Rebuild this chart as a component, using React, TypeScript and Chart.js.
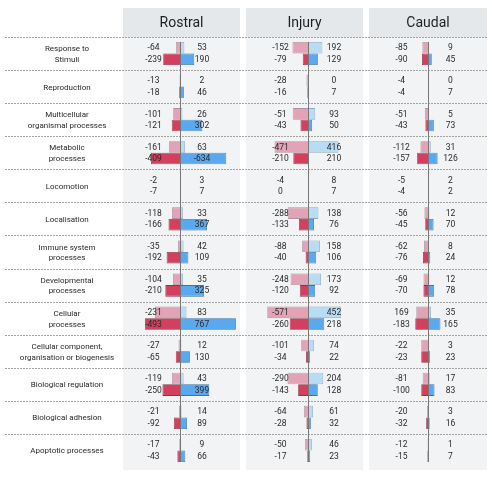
import React, { useEffect, useRef } from "react";
import { Chart, registerables } from "chart.js";

Chart.register(...registerables);

// ---------- DATA ----------
const categories: string[][] = [
  ["Response to", "Stimuli"],
  ["Reproduction"],
  ["Multicellular", "organismal processes"],
  ["Metabolic", "processes"],
  ["Locomotion"],
  ["Localisation"],
  ["Immune system", "processes"],
  ["Developmental", "processes"],
  ["Cellular", "processes"],
  ["Cellular component,", "organisation or biogenesis"],
  ["Biological regulation"],
  ["Biological adhesion"],
  ["Apoptotic processes"],
];

const panelTitles = ["Rostral", "Injury", "Caudal"];

// bar lengths as drawn (light = upper bar, dark = lower bar)
const rostralLightNeg = [-64, -13, -101, -161, -2, -118, -35, -104, -355, -27, -119, -21, -17];
const rostralLightPos = [53, 2, 26, 63, 3, 33, 42, 35, 83, 12, 43, 14, 9];
const rostralDarkNeg = [-239, -18, -121, -409, -7, -166, -192, -210, -493, -65, -250, -92, -43];
const rostralDarkPos = [190, 46, 302, 634, 7, 367, 109, 325, 767, 130, 399, 89, 66];

const injuryLightNeg = [-222, -28, -218, -471, -4, -288, -88, -248, -571, -101, -290, -64, -50];
const injuryLightPos = [192, 0, 93, 416, 8, 138, 158, 173, 452, 74, 204, 61, 46];
const injuryDarkNeg = [-79, -16, -111, -210, 0, -133, -40, -120, -260, -34, -143, -28, -17];
const injuryDarkPos = [129, 7, 50, 0, 7, 76, 106, 92, 218, 22, 128, 32, 23];

const caudalLightNeg = [-85, -4, -51, -112, -5, -56, -62, -69, -169, -100, -81, -20, -12];
const caudalLightPos = [9, 0, 5, 31, 2, 12, 8, 12, 35, 3, 17, 3, 1];
const caudalDarkNeg = [-90, -4, -43, -157, -4, -45, -76, -70, -183, -100, -100, -32, -15];
const caudalDarkPos = [45, 7, 73, 126, 2, 70, 24, 78, 165, 23, 83, 16, 7];

// printed value labels (as shown in the figure)
const rostralLightNegText = ["-64", "-13", "-101", "-161", "-2", "-118", "-35", "-104", "-231", "-27", "-119", "-21", "-17"];
const rostralLightPosText = ["53", "2", "26", "63", "3", "33", "42", "35", "83", "12", "43", "14", "9"];
const rostralDarkNegText = ["-239", "-18", "-121", "-409", "-7", "-166", "-192", "-210", "-493", "-65", "-250", "-92", "-43"];
const rostralDarkPosText = ["190", "46", "302", "-634", "7", "367", "109", "325", "767", "130", "399", "89", "66"];

const injuryLightNegText = ["-152", "-28", "-51", "-471", "-4", "-288", "-88", "-248", "-571", "-101", "-290", "-64", "-50"];
const injuryLightPosText = ["192", "0", "93", "416", "8", "138", "158", "173", "452", "74", "204", "61", "46"];
const injuryDarkNegText = ["-79", "-16", "-43", "-210", "0", "-133", "-40", "-120", "-260", "-34", "-143", "-28", "-17"];
const injuryDarkPosText = ["129", "7", "50", "210", "7", "76", "106", "92", "218", "22", "128", "32", "23"];

const caudalLightNegText = ["-85", "-4", "-51", "-112", "-5", "-56", "-62", "-69", "169", "-22", "-81", "-20", "-12"];
const caudalLightPosText = ["9", "0", "5", "31", "2", "12", "8", "12", "35", "3", "17", "3", "1"];
const caudalDarkNegText = ["-90", "-4", "-43", "-157", "-4", "-45", "-76", "-70", "-183", "-23", "-100", "-32", "-15"];
const caudalDarkPosText = ["45", "7", "73", "126", "2", "70", "24", "78", "165", "23", "83", "16", "7"];

// ---------- LAYOUT / STYLE ----------
const W = 492;
const H = 480;
const AREA_L = 5;
const AREA_R = 487;
const AREA_T = 37;
const AREA_B = 467;
const PX_PER_UNIT = 0.0722;
const ZERO_PX = [180.5, 308.5, 428.5];
const PANEL_X: [number, number][] = [
  [123, 240],
  [246, 363],
  [369, 487],
];
const HEADER_TOP = 8;
const PANEL_BOTTOM = 470;
const LEFT_LABEL_OFF = [-27, -28, -27];
const RIGHT_LABEL_OFF = [21.5, 25.5, 22];
const CAT_PCT = 0.7;
const FONT = "Roboto, 'Noto Sans', sans-serif";

const STYLE = {
  lightNeg: { bg: "#e3a3b7", border: "#b0909c" },
  lightPos: { bg: "#b8dcf3", border: "#8faabf" },
  darkNeg: { bg: "#d3405f", border: "#8e3348" },
  darkPos: { bg: "#5aa9ee", border: "#3a72ad" },
};

type Series = {
  panel: number;
  level: "light" | "dark";
  kind: keyof typeof STYLE;
  values: number[];
  text: string[];
  side: "neg" | "pos";
};

const series: Series[] = [
  { panel: 0, level: "light", kind: "lightNeg", side: "neg", values: rostralLightNeg, text: rostralLightNegText },
  { panel: 0, level: "light", kind: "lightPos", side: "pos", values: rostralLightPos, text: rostralLightPosText },
  { panel: 0, level: "dark", kind: "darkNeg", side: "neg", values: rostralDarkNeg, text: rostralDarkNegText },
  { panel: 0, level: "dark", kind: "darkPos", side: "pos", values: rostralDarkPos, text: rostralDarkPosText },
  { panel: 1, level: "light", kind: "lightNeg", side: "neg", values: injuryLightNeg, text: injuryLightNegText },
  { panel: 1, level: "light", kind: "lightPos", side: "pos", values: injuryLightPos, text: injuryLightPosText },
  { panel: 1, level: "dark", kind: "darkNeg", side: "neg", values: injuryDarkNeg, text: injuryDarkNegText },
  { panel: 1, level: "dark", kind: "darkPos", side: "pos", values: injuryDarkPos, text: injuryDarkPosText },
  { panel: 2, level: "light", kind: "lightNeg", side: "neg", values: caudalLightNeg, text: caudalLightNegText },
  { panel: 2, level: "light", kind: "lightPos", side: "pos", values: caudalLightPos, text: caudalLightPosText },
  { panel: 2, level: "dark", kind: "darkNeg", side: "neg", values: caudalDarkNeg, text: caudalDarkNegText },
  { panel: 2, level: "dark", kind: "darkPos", side: "pos", values: caudalDarkPos, text: caudalDarkPosText },
];

const decorPlugin = {
  id: "decor",
  beforeDraw(chart: any) {
    const ctx = chart.ctx;
    const y = chart.scales.y;
    const band = (y.bottom - y.top) / categories.length;
    ctx.save();
    // panel backgrounds + headers
    PANEL_X.forEach(([l, r], i) => {
      ctx.fillStyle = "#f1f3f4";
      ctx.fillRect(l, HEADER_TOP, r - l, PANEL_BOTTOM - HEADER_TOP);
      ctx.fillStyle = "#e5e8ea";
      ctx.fillRect(l, HEADER_TOP, r - l, y.top - HEADER_TOP);
      ctx.fillStyle = "#1e1e1e";
      ctx.font = `14px ${FONT}`;
      ctx.textAlign = "center";
      ctx.textBaseline = "middle";
      ctx.fillText(panelTitles[i], (l + r) / 2, (HEADER_TOP + y.top) / 2 + 1);
    });
    // dotted row separators
    ctx.strokeStyle = "#a3a3a3";
    ctx.lineWidth = 1;
    ctx.setLineDash([2, 1]);
    categories.forEach((_, i) => {
      const yy = Math.round(y.getPixelForValue(i) - band / 2) + 0.5;
      ctx.beginPath();
      ctx.moveTo(AREA_L, yy);
      ctx.lineTo(AREA_R, yy);
      ctx.stroke();
    });
    ctx.setLineDash([]);
    // row labels
    ctx.fillStyle = "#2a2a2a";
    ctx.font = `8px ${FONT}`;
    ctx.textAlign = "center";
    ctx.textBaseline = "middle";
    categories.forEach((lines, i) => {
      const cy = y.getPixelForValue(i) + 1;
      const lh = 10.7;
      lines.forEach((t, k) => {
        ctx.fillText(t, 67, cy + (k - (lines.length - 1) / 2) * lh);
      });
    });
    ctx.restore();
  },
  afterDatasetsDraw(chart: any) {
    const ctx = chart.ctx;
    const y = chart.scales.y;
    const band = (y.bottom - y.top) / categories.length;
    ctx.save();
    // zero lines
    ctx.strokeStyle = "#777777";
    ctx.lineWidth = 1;
    [0, 1, 2].forEach((p) => {
      const x = chart.scales["x" + p].getPixelForValue(0);
      const top = y.getPixelForValue(0) - (band * CAT_PCT) / 2;
      const bot = y.getPixelForValue(categories.length - 1) + (band * CAT_PCT) / 2;
      ctx.beginPath();
      ctx.moveTo(x, top);
      ctx.lineTo(x, bot);
      ctx.stroke();
    });
    // value labels
    ctx.fillStyle = "#2a2a2a";
    ctx.font = `8.5px ${FONT}`;
    ctx.textAlign = "center";
    ctx.textBaseline = "middle";
    series.forEach((s, di) => {
      const meta = chart.getDatasetMeta(di);
      const zero = chart.scales["x" + s.panel].getPixelForValue(0);
      const off = s.side === "neg" ? LEFT_LABEL_OFF[s.panel] : RIGHT_LABEL_OFF[s.panel];
      meta.data.forEach((el: any, j: number) => {
        ctx.fillText(s.text[j], zero + off, el.y + 0.5);
      });
    });
    ctx.restore();
  },
};

export default function App() {
  const ref = useRef<HTMLCanvasElement | null>(null);

  useEffect(() => {
    if (!ref.current) return;
    const scales: any = {
      y: {
        type: "category",
        display: false,
        offset: true,
        grid: { display: false },
      },
    };
    [0, 1, 2].forEach((p) => {
      scales["x" + p] = {
        type: "linear",
        axis: "x",
        position: "bottom",
        display: false,
        stacked: true,
        min: -(ZERO_PX[p] - AREA_L) / PX_PER_UNIT,
        max: (AREA_R - ZERO_PX[p]) / PX_PER_UNIT,
        grid: { display: false },
      };
    });

    const chart = new Chart(ref.current, {
      type: "bar",
      data: {
        labels: categories.map((c) => c.join(" ")),
        datasets: series.map((s) => ({
          label: `${panelTitles[s.panel]} ${s.kind}`,
          data: s.values,
          xAxisID: "x" + s.panel,
          stack: s.level,
          backgroundColor: STYLE[s.kind].bg,
          borderColor: STYLE[s.kind].border,
          borderWidth: 0.8,
          categoryPercentage: CAT_PCT,
          barPercentage: 1,
        })),
      },
      options: {
        indexAxis: "y",
        responsive: false,
        animation: false,
        devicePixelRatio: 1,
        layout: {
          padding: { left: AREA_L, right: W - AREA_R, top: AREA_T, bottom: H - AREA_B },
        },
        plugins: {
          legend: { display: false },
          tooltip: { enabled: false },
          title: { display: false },
        },
        scales,
      } as any,
      plugins: [decorPlugin],
    });
    return () => chart.destroy();
  }, []);

  return (
    <div style={{ position: "absolute", left: 0, top: 0, width: W, height: H, background: "#ffffff" }}>
      <canvas ref={ref} width={W} height={H} style={{ display: "block" }} />
    </div>
  );
}
